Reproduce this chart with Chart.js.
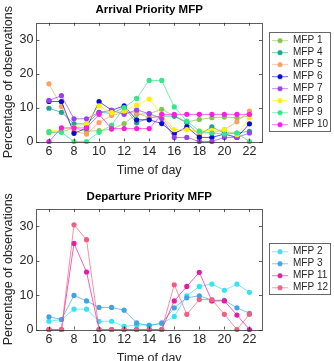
<!DOCTYPE html>
<html>
<head>
<meta charset="utf-8">
<script src="https://cdn.jsdelivr.net/npm/chart.js@4/dist/chart.umd.min.js"></script>
<style>
  html, body { margin: 0; padding: 0; background: #fff; overflow: hidden; width: 334px; height: 361px; }
  #w1 { position: absolute; left: 0; top: 0; width: 340px; height: 180px; }
  #w2 { position: absolute; left: 0; top: 180px; width: 340px; height: 188px; }
</style>
</head>
<body>
<div id="w1"><canvas id="c1" width="340" height="180"></canvas></div>
<div id="w2"><canvas id="c2" width="340" height="188"></canvas></div>
<script>
// ---------- data ----------
const hours = [6, 7, 8, 9, 10, 11, 12, 13, 14, 15, 16, 17, 18, 19, 20, 21, 22];
const xTicks = [6, 8, 10, 12, 14, 16, 18, 20, 22];
const yTicks = [0, 10, 20, 30];

const arrivalTitle = 'Arrival Priority MFP';
const departureTitle = 'Departure Priority MFP';
const xTitle = 'Time of day';
const yTitle = 'Percentage of observations';

const arrivalNames = ['MFP 1', 'MFP 4', 'MFP 5', 'MFP 6', 'MFP 7', 'MFP 8', 'MFP 9', 'MFP 10'];
const mfp1  = [2.6, 2.8, 4.0, 3.0, 3.2, 3.6, 5.3, 8.0, 8.2, 9.5, 7.5, 5.8, 6.5, 7.0, 7.2, 7.0, 7.5];
const mfp4  = [9.8, 8.6, 5.2, 5.2, 8.6, 8.3, 10.0, 5.5, 7.0, 7.5, 7.5, 5.5, 2.0, 4.3, 2.5, 2.5, 3.0];
const mfp5  = [17.0, 10.3, 3.0, 2.2, 5.6, 7.7, 8.5, 8.5, 7.0, 7.5, 2.5, 3.8, 2.5, 2.5, 3.5, 5.8, 9.0];
const mfp6  = [11.8, 11.8, 2.4, 4.0, 11.8, 9.2, 10.5, 6.4, 6.4, 5.3, 2.3, 4.3, 1.2, 1.2, 2.2, 1.2, 5.2];
const mfp7  = [12.1, 13.5, 6.7, 6.7, 8.6, 9.2, 8.0, 9.3, 8.2, 6.8, 1.2, 1.2, 0, 0, 1.2, 1.2, 2.5];
const mfp8  = [3.0, 3.5, 4.2, 5.2, 10.5, 8.5, 9.0, 10.7, 12.5, 8.0, 3.5, 3.5, 3.1, 3.3, 3.5, 2.0, 7.0];
const mfp9  = [2.9, 2.7, 0, 0, 2.7, 4.8, 10.0, 12.7, 18.0, 18.0, 10.2, 6.0, 3.1, 2.5, 2.2, 2.5, 0];
const mfp10 = [0, 4.0, 4.0, 4.0, 8.0, 3.8, 3.8, 3.8, 3.8, 8.0, 8.0, 8.0, 8.0, 8.0, 8.0, 8.0, 8.0];
const arrivalSeries = [mfp1, mfp4, mfp5, mfp6, mfp7, mfp8, mfp9, mfp10];
const arrivalColors = ['#86C450', '#21A08F', '#F5A263', '#0A0ACD', '#9B3FF0', '#FFF000', '#33E88A', '#FF1AE6'];

const departureNames = ['MFP 2', 'MFP 3', 'MFP 11', 'MFP 12'];
const mfp2  = [2.4, 2.9, 5.9, 5.9, 2.4, 2.4, 0.9, 1.3, 1.3, 1.7, 3.8, 9.8, 12.5, 13.2, 11.4, 13.2, 10.8];
const mfp3  = [3.7, 2.9, 9.9, 8.3, 6.4, 6.4, 5.6, 1.9, 1.1, 1.9, 6.3, 9.2, 9.8, 8.5, 8.5, 6.3, 4.7];
const mfp11 = [0, 0, 25.0, 16.7, 0, 0, 0, 0, 0, 0, 8.3, 12.5, 16.6, 8.3, 8.3, 4.2, 0];
const mfp12 = [0, 0, 30.4, 26.1, 0, 0, 0, 0, 0, 0, 13.0, 4.4, 8.7, 8.7, 4.4, 0, 4.4];
const departureSeries = [mfp2, mfp3, mfp11, mfp12];
const departureColors = ['#37E2F2', '#3FA3E8', '#E81AA0', '#F0607E'];

// ---------- helpers ----------
const FONT = "'Liberation Sans', Arial, Helvetica, sans-serif";
const AXC = '#262626';

function legendIcon(color) {
  const c = document.createElement('canvas');
  c.width = 24; c.height = 8;
  const g = c.getContext('2d');
  g.strokeStyle = color; g.globalAlpha = 0.6; g.lineWidth = 1;
  g.beginPath(); g.moveTo(8, 4.5); g.lineTo(24, 4.5); g.stroke();
  g.globalAlpha = 1; g.fillStyle = color;
  g.beginPath(); g.arc(16, 4.5, 2.5, 0, Math.PI * 2); g.fill();
  return c;
}

const boxPlugin = {
  id: 'matlabBox',
  afterDraw(chart) {
    const {ctx, chartArea: a, scales} = chart;
    ctx.save();
    ctx.strokeStyle = 'rgba(38,38,38,0.75)';
    ctx.lineWidth = 1;
    ctx.strokeRect(Math.round(a.left) + 0.5, Math.round(a.top) + 0.5,
                   Math.round(a.right - a.left), Math.round(a.bottom - a.top));
    ctx.beginPath();
    scales.x.ticks.forEach(t => {
      const px = Math.round(scales.x.getPixelForValue(t.value)) + 0.5;
      ctx.moveTo(px, a.bottom); ctx.lineTo(px, a.bottom - 3);
      ctx.moveTo(px, a.top); ctx.lineTo(px, a.top + 3);
    });
    scales.y.ticks.forEach(t => {
      const py = Math.round(scales.y.getPixelForValue(t.value)) + 0.5;
      ctx.moveTo(a.left, py); ctx.lineTo(a.left + 3, py);
      ctx.moveTo(a.right, py); ctx.lineTo(a.right - 3, py);
    });
    ctx.stroke();
    // legend border
    const hb = chart.legend && chart.legend.legendHitBoxes;
    if (hb && hb.length) {
      const left = hb[0].left + 5;
      const right = hb[0].left + Math.max(...hb.map(h => h.width)) + 2;
      const top = hb[0].top + 5 - 8.5;
      const bottom = hb[hb.length - 1].top + 5 + 6;
      ctx.strokeStyle = 'rgba(38,38,38,0.7)';
      ctx.strokeRect(Math.round(left) + 0.5, Math.round(top) + 0.5,
                     Math.round(right - left), Math.round(bottom - top));
    }
    ctx.restore();
  }
};

function makeChart(canvasId, title, names, series, colors, titlePad) {
  const datasets = names.map((n, i) => ({
    label: n,
    data: hours.map((h, k) => ({x: h, y: series[i][k]})),
    borderColor: colors[i] + 'B0',
    backgroundColor: colors[i],
    pointBackgroundColor: colors[i],
    pointBorderColor: colors[i],
    pointRadius: 2.6,
    pointBorderWidth: 0,
    borderWidth: 1,
    tension: 0,
    clip: false,
    order: -i
  }));
  const icons = colors.map(legendIcon);
  return new Chart(document.getElementById(canvasId), {
    type: 'line',
    data: {datasets},
    plugins: [boxPlugin],
    options: {
      responsive: false,
      animation: false,
      events: [],
      layout: {padding: {left: 0, right: 2, top: 0, bottom: 0}},
      scales: {
        x: {
          type: 'linear', min: 5, max: 23,
          afterBuildTicks: s => { s.ticks = xTicks.map(v => ({value: v})); },
          grid: {display: false, drawTicks: false},
          border: {display: false},
          ticks: {padding: 3, color: AXC, font: {family: FONT, size: 12.5}, maxRotation: 0},
          title: {display: true, text: xTitle, color: AXC, font: {family: FONT, size: 12.5}, padding: {top: 1, bottom: 1.5}}
        },
        y: {
          type: 'linear', min: 0, max: 35,
          afterBuildTicks: s => { s.ticks = yTicks.map(v => ({value: v})); },
          grid: {display: false, drawTicks: false},
          border: {display: false},
          ticks: {padding: 3, color: AXC, font: {family: FONT, size: 12.5}},
          title: {display: true, text: yTitle, color: AXC, font: {family: FONT, size: 12.5}, padding: {top: 1.5, bottom: 0}}
        }
      },
      plugins: {
        title: {
          display: true, text: title, fullSize: false, color: '#000',
          font: {family: FONT, size: 11.5, weight: 'bold'},
          padding: titlePad
        },
        legend: {
          position: 'right',
          align: 'center',
          fullSize: false,
          labels: {
            usePointStyle: true,
            pointStyleWidth: 24,
            boxHeight: 10,
            padding: 2,
            color: AXC,
            font: {family: FONT, size: 10},
            generateLabels: (chart) => {
              const items = Chart.defaults.plugins.legend.labels.generateLabels(chart);
              items.sort((a, b) => a.datasetIndex - b.datasetIndex);
              items.forEach(it => { it.pointStyle = icons[it.datasetIndex]; });
              return items;
            }
          }
        },
        tooltip: {enabled: false}
      }
    }
  });
}

makeChart('c1', arrivalTitle, arrivalNames, arrivalSeries, arrivalColors, {top: 3, bottom: 6});
makeChart('c2', departureTitle, departureNames, departureSeries, departureColors, {top: 9.8, bottom: 5.4});
</script>
</body>
</html>
